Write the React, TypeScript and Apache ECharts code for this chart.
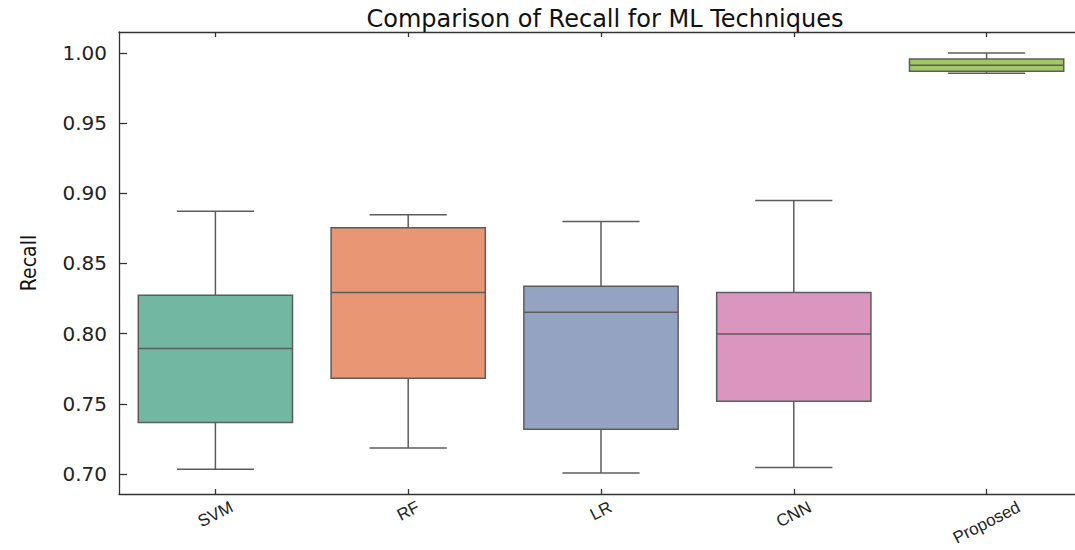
import React, { useEffect, useRef } from "react";
import * as echarts from "echarts";

const categories = ["SVM", "RF", "LR", "CNN", "Proposed"];
const lowWhisker = [0.7035, 0.7185, 0.7008, 0.7047, 0.9855];
const q1Values = [0.7368, 0.7683, 0.732, 0.7518, 0.9869];
const medians = [0.7894, 0.8293, 0.8152, 0.7998, 0.9912];
const q3Values = [0.8273, 0.8755, 0.8337, 0.8293, 0.9957];
const highWhisker = [0.8873, 0.8847, 0.88, 0.8949, 1.0];
const yTicks = [0.7, 0.75, 0.8, 0.85, 0.9, 0.95, 1.0];

const boxColors = ["#72b7a1", "#e99675", "#95a3c3", "#db96c0", "#a2c864"];
const lineColor = "#5c5c5c";

const LABEL_ROT = 27;
const LABEL_FONT = 17;
const LABEL_FAMILY = "Liberation Sans";

export default function App() {
  const ref = useRef<HTMLDivElement>(null);
  useEffect(() => {
    if (!ref.current) return;
    const chart = echarts.init(ref.current, null, { renderer: "svg" });

    const canvas = document.createElement("canvas");
    const ctx = canvas.getContext("2d")!;
    ctx.font = `${LABEL_FONT}px "${LABEL_FAMILY}"`;
    const th = (LABEL_ROT * Math.PI) / 180;
    const rich: Record<string, any> = {};
    categories.forEach((c, i) => {
      const w = ctx.measureText(c).width;
      const dy = (w * Math.sin(th)) / 2;
      const a = dy * Math.cos(th);
      const b = dy * Math.sin(th);
      rich["l" + i] = {
        fontSize: LABEL_FONT,
        fontFamily: LABEL_FAMILY,
        color: "#222",
        padding: [2 * a, 2 * b, 0, 0],
      };
    });

    const data = categories.map((_, i) => [
      i,
      lowWhisker[i],
      q1Values[i],
      medians[i],
      q3Values[i],
      highWhisker[i],
    ]);

    const yMin = 0.6858;
    const yMax = 1.0149;

    chart.setOption({
      animation: false,
      title: {
        text: "Comparison of Recall for ML Techniques",
        left: 600,
        textAlign: "center",
        top: 2,
        textStyle: {
          fontFamily: "DejaVu Sans",
          fontSize: 24,
          fontWeight: "normal",
          color: "#111",
        },
      },
      grid: {
        left: 119,
        right: -8,
        top: 32,
        bottom: 56,
        containLabel: false,
        outerBoundsMode: "none",
      },
      xAxis: [
        {
          type: "category",
          data: categories,
          position: "bottom",
          axisLine: { show: true, lineStyle: { color: "#333", width: 1.3 } },
          axisTick: {
            show: true,
            inside: true,
            length: 5,
            alignWithLabel: true,
            lineStyle: { color: "#333", width: 1.3 },
          },
          axisLabel: {
            rotate: LABEL_ROT,
            align: "center",
            verticalAlign: "middle",
            margin: 12,
            interval: 0,
            formatter: (v: string, i: number) => `{l${i}|${v}}`,
            rich,
          },
          splitLine: { show: false },
        },
        {
          type: "category",
          data: categories,
          position: "top",
          axisLine: { show: true, lineStyle: { color: "#333", width: 1.3 } },
          axisTick: {
            show: true,
            inside: true,
            length: 5,
            alignWithLabel: true,
            lineStyle: { color: "#333", width: 1.3 },
          },
          axisLabel: { show: false },
          splitLine: { show: false },
        },
      ],
      yAxis: [
        {
          type: "value",
          min: yMin,
          max: yMax,
          position: "left",
          name: "Recall",
          nameLocation: "middle",
          nameRotate: 90,
          nameGap: 80,
          nameTextStyle: {
            fontFamily: "'DejaVu Sans Condensed', 'Liberation Sans Narrow', 'Liberation Sans'",
            fontSize: 21,
            color: "#111",
          },
          axisLine: { show: true, lineStyle: { color: "#333", width: 1.3 } },
          axisTick: {
            show: true,
            inside: true,
            length: 8,
            customValues: yTicks,
            lineStyle: { color: "#333", width: 1.3 },
          },
          axisLabel: {
            customValues: yTicks,
            margin: 12,
            fontFamily: "DejaVu Sans",
            fontSize: 20,
            color: "#222",
            formatter: (v: number) => v.toFixed(2),
          },
          splitLine: { show: false },
        },
        {
          type: "value",
          min: yMin,
          max: yMax,
          position: "right",
          axisLine: { show: true, lineStyle: { color: "#333", width: 1.3 } },
          axisTick: {
            show: true,
            inside: true,
            length: 8,
            customValues: yTicks,
            lineStyle: { color: "#333", width: 1.3 },
          },
          axisLabel: { show: false },
          splitLine: { show: false },
        },
      ],
      series: [
        {
          type: "custom",
          xAxisIndex: 0,
          yAxisIndex: 0,
          data,
          renderItem: (params: any, api: any) => {
            const idx = api.value(0);
            const low = api.coord([idx, api.value(1)]);
            const q1 = api.coord([idx, api.value(2)]);
            const med = api.coord([idx, api.value(3)]);
            const q3 = api.coord([idx, api.value(4)]);
            const high = api.coord([idx, api.value(5)]);
            const band = api.size([1, 0])[0];
            const bw = band * 0.8;
            const cw = bw / 2;
            const x = low[0];
            const ls = { stroke: lineColor, lineWidth: 1.5 };
            return {
              type: "group",
              children: [
                { type: "line", shape: { x1: x, y1: high[1], x2: x, y2: q3[1] }, style: ls },
                { type: "line", shape: { x1: x, y1: q1[1], x2: x, y2: low[1] }, style: ls },
                { type: "line", shape: { x1: x - cw / 2, y1: high[1], x2: x + cw / 2, y2: high[1] }, style: ls },
                { type: "line", shape: { x1: x - cw / 2, y1: low[1], x2: x + cw / 2, y2: low[1] }, style: ls },
                {
                  type: "rect",
                  shape: { x: x - bw / 2, y: q3[1], width: bw, height: q1[1] - q3[1] },
                  style: { fill: boxColors[params.dataIndex], stroke: lineColor, lineWidth: 1.5 },
                },
                { type: "line", shape: { x1: x - bw / 2, y1: med[1], x2: x + bw / 2, y2: med[1] }, style: ls },
              ],
            };
          },
        },
      ],
    });
    return () => chart.dispose();
  }, []);
  return (
    <div
      ref={ref}
      style={{ position: "absolute", left: 0, top: 0, width: 1075, height: 550, background: "#fff" }}
    />
  );
}
